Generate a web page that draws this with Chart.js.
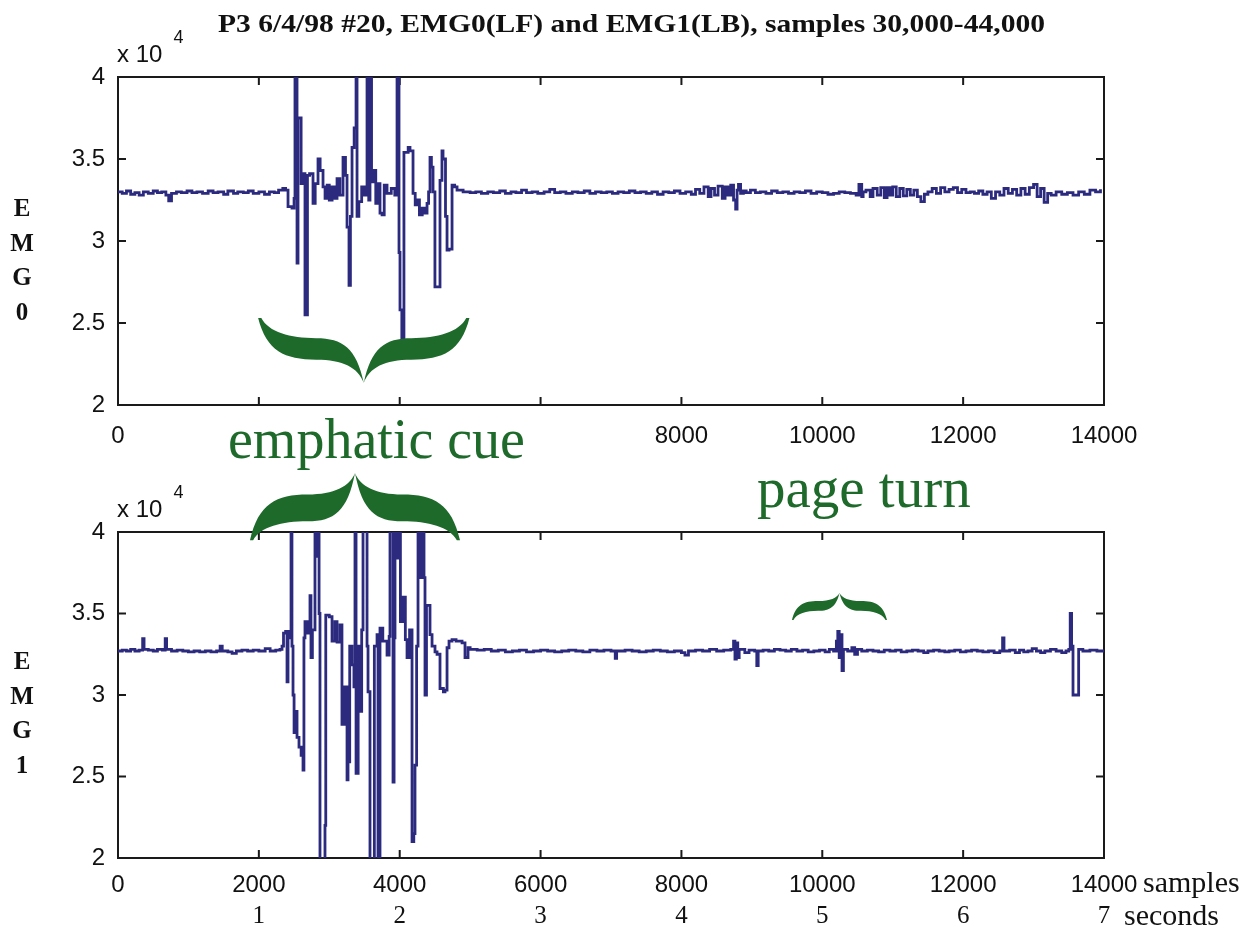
<!DOCTYPE html>
<html>
<head>
<meta charset="utf-8">
<title>EMG0 and EMG1</title>
<script src="https://cdn.jsdelivr.net/npm/chart.js@4.4.1/dist/chart.umd.min.js"></script>
<style>
  html, body { margin: 0; padding: 0; background: #fff; }
  #page { position: relative; width: 1253px; height: 928px; overflow: hidden; }
  canvas { position: absolute; left: 0; }
  #topChart { top: 0; }
  #bottomChart { top: 460px; }
  .lbl { position: absolute; white-space: nowrap; line-height: 1; color: #111; }
  .serif { font-family: 'Liberation Serif', 'Times New Roman', serif; }
  .sans { font-family: 'Liberation Sans', Arial, sans-serif; }
  .green { color: #1d6a2b; }
  .emg { width: 30px; text-align: center; font-weight: bold; font-size: 25px; line-height: 34.5px; }
  .sup { position: relative; top: -19px; font-size: 18px; margin-left: 11px; }
</style>
</head>
<body>
<div id="page">
  <canvas id="topChart" width="1253" height="460"></canvas>
  <canvas id="bottomChart" width="1253" height="468"></canvas>

  <div id="title" class="lbl serif" style="left:218px; top:11px; font-size:26px; font-weight:bold; transform-origin:0 0;">P3 6/4/98 #20, EMG0(LF) and EMG1(LB), samples 30,000-44,000</div>

  <div class="lbl sans" style="left:117px; top:42px; font-size:24px;">x 10<span class="sup">4</span></div>
  <div class="lbl sans" style="left:117px; top:497px; font-size:24px;">x 10<span class="sup">4</span></div>

  <div class="lbl serif emg" style="left:7px; top:191px;">E<br>M<br>G<br>0</div>
  <div class="lbl serif emg" style="left:7px; top:644px;">E<br>M<br>G<br>1</div>

  <div class="lbl serif green" style="left:228px; top:411px; font-size:56px;">emphatic cue</div>
  <div class="lbl serif green" style="left:757px; top:459px; font-size:57px;">page turn</div>

  <div class="lbl serif" style="left:1143px; top:867px; font-size:30px;">samples</div>
  <div class="lbl serif" style="left:1124px; top:900px; font-size:30px;">seconds</div>
</div>

<script>
// axis ticks
const sampleTicks = [0, 2000, 4000, 6000, 8000, 10000, 12000, 14000];
const topShownSamples = [0, 8000, 10000, 12000, 14000];
const secondLabels = ['', '1', '2', '3', '4', '5', '6', '7'];
const yTicks = [20000, 25000, 30000, 35000, 40000];
const yTickLabels = ['2', '2.5', '3', '3.5', '4'];

// EMG0 (LF)
const emg0Samples = [
  0, 60, 120, 180, 240, 300, 360, 430, 500, 560, 620, 680, 720, 760, 830, 900, 980, 1050, 1120, 1200,
  1280, 1350, 1420, 1500, 1560, 1640, 1700, 1780, 1850, 1920, 2000, 2080, 2150, 2220, 2280, 2340,
  2380, 2414, 2470, 2500, 2513, 2530, 2542, 2556, 2580, 2600, 2640, 2655, 2670, 2690, 2720, 2769,
  2800, 2840, 2870, 2911, 2940, 2970, 3000, 3040, 3080, 3110, 3150, 3195, 3230, 3252, 3280, 3300,
  3323, 3353, 3380, 3394, 3420, 3460, 3500, 3536, 3560, 3578, 3600, 3640, 3660, 3700, 3720, 3749,
  3780, 3820, 3880, 3930, 3962, 3990, 4004, 4030, 4047, 4060, 4120, 4146, 4189, 4220, 4246, 4280,
  4320, 4350, 4388, 4410, 4430, 4450, 4473, 4500, 4540, 4572, 4600, 4615, 4650, 4672, 4700, 4743,
  4780, 4814, 4900, 5000, 5080, 5160, 5250, 5330, 5420, 5500, 5580, 5650, 5730, 5800, 5880, 5960,
  6050, 6130, 6200, 6280, 6360, 6450, 6530, 6620, 6700, 6780, 6860, 6940, 7020, 7100, 7180, 7260,
  7340, 7420, 7500, 7580, 7660, 7740, 7820, 7900, 7980, 8060, 8140, 8200, 8260, 8320, 8380, 8420,
  8470, 8520, 8580, 8620, 8660, 8700, 8740, 8770, 8790, 8810, 8840, 8880, 8920, 8980, 9050, 9120,
  9200, 9280, 9360, 9440, 9520, 9600, 9680, 9760, 9840, 9920, 10000, 10080, 10160, 10240, 10320, 10400,
  10480, 10520, 10560, 10580, 10620, 10680, 10720, 10780, 10830, 10880, 10920, 10960, 11000, 11050, 11100, 11150,
  11200, 11250, 11300, 11350, 11400, 11450, 11500, 11560, 11620, 11680, 11740, 11800, 11860, 11920, 11980, 12040,
  12100, 12160, 12220, 12280, 12340, 12400, 12460, 12520, 12580, 12640, 12700, 12760, 12820, 12880, 12940, 13000,
  13050, 13100, 13150, 13200, 13250, 13320, 13400, 13480, 13560, 13640, 13720, 13800, 13880, 13950, 14000
];
const emg0Values = [
  33000, 32900, 33050, 32850, 32950, 32800, 33000, 32900, 33050, 32950, 33000, 32800, 32450, 32900, 33000, 32950, 33050, 32950, 33000, 32900,
  33050, 32950, 33000, 32850, 33050, 32900, 33000, 32950, 33050, 32900, 33000, 32850, 33000, 32950, 33100, 33200,
  33100, 32100, 32000, 32600, 41000, 41000, 28650, 37500, 37500, 33500, 34100, 25500, 25500, 34000, 34100, 32300,
  33500, 35000, 34300, 33300, 32600, 33400, 32500, 33300, 32600, 33800, 32800, 35100, 34000, 30850, 27300, 31500,
  35700, 36900, 41000, 31500, 32400, 33300, 32800, 41000, 32500, 41000, 33600, 34300, 32300, 33500, 31700, 31600,
  33400, 32900, 33200, 32800, 41000, 29300, 25800, 24000, 24000, 35400, 35700, 35500, 32900, 32200, 32500, 31600,
  32000, 31700, 32300, 33000, 35100, 34500, 33000, 27200, 27200, 33700, 35500, 35000, 31500, 29450, 29500, 33400,
  33300, 33100, 33000, 32950, 33000, 32900, 33000, 32950, 33050, 32900, 33000, 32950, 33100, 32950, 33000, 32900,
  33000, 33150, 32950, 33000, 32900, 33000, 32950, 33050, 32900, 33000, 32950, 33000, 32900, 33000, 32950, 33050,
  32950, 33000, 32900, 33000, 32850, 33000, 32950, 33050, 32900, 33000, 32850, 33150, 32900, 33300, 32700, 33200,
  32800, 33350, 32600, 33300, 32800, 33400, 32500, 31950, 33100, 33450, 32900, 33050, 32950, 33100, 32950, 33000,
  32900, 33050, 32950, 33000, 32900, 33000, 32950, 33050, 32900, 33000, 32950, 32850, 32900, 33000, 32950, 32900,
  32800, 33450, 32700, 33000, 33100, 32700, 33200, 32800, 33250, 32650, 33250, 32800, 33300, 32700, 33200, 32750,
  33150, 32800, 33100, 32700, 32400, 32850, 33000, 33200, 32900, 33250, 33000, 33150, 33250, 32950, 33150, 32950,
  33000, 32900, 33050, 32850, 33000, 32600, 33000, 32800, 33200, 32900, 33150, 32800, 33200, 32850, 33250, 33450,
  32700, 33200, 32350, 32900, 32800, 33000, 32850, 32950, 32800, 33000, 32850, 33100, 33000, 33150
];

// EMG1 (LB)
const emg1Samples = [
  0, 60, 120, 180, 240, 300, 350, 370, 430, 500, 560, 630, 670, 690, 760, 840, 920, 1000, 1080, 1160,
  1240, 1320, 1400, 1450, 1480, 1560, 1620, 1680, 1760, 1840, 1920, 2000, 2090, 2160, 2240, 2300,
  2329, 2350, 2380, 2400, 2414, 2440, 2457, 2470, 2485, 2500, 2520, 2542, 2570, 2600, 2627, 2640,
  2655, 2690, 2726, 2740, 2760, 2797, 2820, 2840, 2855, 2868, 2910, 2939, 2950, 3000, 3039, 3080,
  3110, 3152, 3180, 3220, 3252, 3266, 3290, 3323, 3350, 3365, 3380, 3410, 3436, 3460, 3479, 3520,
  3536, 3550, 3578, 3620, 3640, 3678, 3692, 3710, 3720, 3760, 3820, 3850, 3862, 3905, 3920, 3933,
  3960, 3990, 4010, 4047, 4080, 4104, 4140, 4175, 4200, 4217, 4240, 4260, 4300, 4331, 4345, 4359,
  4380, 4402, 4430, 4459, 4501, 4530, 4572, 4620, 4643, 4672, 4700, 4743, 4800, 4885, 4927, 4970,
  5000, 5100, 5200, 5300, 5400, 5500, 5600, 5700, 5800, 5900, 6000, 6100, 6200, 6300, 6400, 6500,
  6600, 6700, 6800, 6900, 7000, 7060, 7080, 7200, 7300, 7400, 7500, 7600, 7700, 7800, 7900, 8000,
  8050, 8100, 8200, 8300, 8400, 8500, 8600, 8700, 8740, 8760, 8780, 8800, 8820, 8900, 8960, 9040,
  9070, 9090, 9160, 9240, 9320, 9400, 9480, 9560, 9640, 9720, 9800, 9880, 9960, 10040, 10100, 10160,
  10200, 10220, 10240, 10260, 10280, 10300, 10360, 10420, 10460, 10500, 10560, 10640, 10720, 10800, 10880, 10960,
  11040, 11120, 11200, 11280, 11360, 11440, 11500, 11580, 11660, 11740, 11800, 11880, 11960, 12040, 12120, 12200,
  12280, 12360, 12440, 12520, 12560, 12580, 12660, 12740, 12800, 12860, 12920, 12980, 13040, 13100, 13160, 13240,
  13320, 13400, 13460, 13500, 13520, 13540, 13560, 13620, 13640, 13700, 13800, 13900, 14000
];
const emg1Values = [
  32700, 32750, 32700, 32800, 32700, 32750, 33450, 32800, 32750, 32700, 32800, 32750, 33450, 32800, 32700, 32750, 32700, 32650, 32700, 32650,
  32700, 32650, 32700, 33000, 32700, 32650, 32550, 32700, 32750, 32700, 32750, 32700, 32850, 32700, 32750, 32800,
  33000, 33800, 33900, 30800, 33500, 33900, 41000, 33000, 30000, 27700, 29000, 27400, 26800, 26300, 25400, 33500,
  34500, 33800, 36100, 32300, 34000, 41000, 38500, 41000, 35000, 19000, 19000, 22000, 34900, 34800, 33300, 34500,
  33250, 34300, 28200, 30500, 24800, 25900, 33000, 31850, 30500, 41000, 25200, 33000, 29000, 34000, 41000, 41000,
  33000, 30200, 19000, 19000, 33000, 33700, 19000, 19000, 34100, 33300, 32450, 33600, 41000, 24650, 33500, 41000,
  38400, 41000, 34500, 36000, 33400, 32300, 34000, 21000, 21500, 25700, 33000, 41000, 37200, 41000, 37200, 30000,
  35500, 35500, 33700, 33000, 32650, 32500, 30400, 30200, 30300, 32900, 33300, 33400, 33300, 33200, 32300, 32900,
  32800, 32750, 32800, 32700, 32750, 32650, 32700, 32750, 32650, 32700, 32750, 32700, 32650, 32700, 32750, 32700,
  32650, 32750, 32700, 32750, 32700, 32250, 32700, 32750, 32700, 32650, 32700, 32750, 32700, 32650, 32700, 32600,
  32450, 32700, 32750, 32700, 32800, 32700, 32750, 32800, 33300, 32200, 33200, 32300, 32800, 32600, 32750, 32700,
  31800, 32700, 32750, 32700, 32800, 32750, 32700, 32800, 32700, 32750, 32650, 32700, 32750, 32650, 32800, 32700,
  33300, 33900, 32300, 33700, 31500, 32800, 32700, 32900, 32500, 32800, 32700, 32750, 32700, 32650, 32750, 32700,
  32750, 32650, 32700, 32750, 32700, 32600, 32700, 32750, 32700, 32650, 32700, 32750, 32650, 32700, 32750, 32700,
  32650, 32700, 32600, 32700, 33500, 32700, 32750, 32600, 32750, 32650, 32700, 32850, 32700, 32600, 32700, 32800,
  32700, 32600, 32700, 32800, 35000, 33000, 30000, 30000, 32800, 32700, 32750, 32700, 32750
];

const lineColor = '#2b2a7e';
const green = '#1d6a2b';
const tickFont = { family: "'Liberation Sans', Arial, sans-serif", size: 24 };

// brace annotations, placed in data units of each panel
const topBraces = [{ from: 1990, to: 4990, end: 25300, tip: 21340, a: 0.64, t: 0.33 }];
const bottomBraces = [
  { from: 1874, to: 4856, end: 39500, tip: 43620, a: 0.68, t: 0.4 },
  { from: 9570, to: 10919, end: 34600, tip: 36260, a: 0.7, t: 0.36 }
];

function drawBrace(ctx, xa, xb, yEnd, yTip, a, t) {
  const xm = (xa + xb) / 2, h = yTip - yEnd, b = a - t;
  [xa, xb].forEach(x0 => {
    const w = xm - x0;
    const P = (u, v) => [x0 + u * w, yEnd + v * h];
    ctx.beginPath();
    ctx.moveTo(...P(0, 0));
    ctx.bezierCurveTo(...P(0.08, a * 0.8), ...P(0.25, a), ...P(0.55, a));
    ctx.bezierCurveTo(...P(0.8, a), ...P(0.95, a + 0.12), ...P(1, 1));
    ctx.bezierCurveTo(...P(0.93, b + 0.15), ...P(0.8, b), ...P(0.55, b));
    ctx.bezierCurveTo(...P(0.3, b), ...P(0.1, b * 0.7), ...P(0.03, 0));
    ctx.closePath();
    ctx.fill();
  });
}

// matlab style box with inward ticks
const framePlugin = {
  id: 'frame',
  beforeDatasetsDraw(chart) {
    const { ctx, chartArea: c, scales } = chart;
    ctx.save();
    ctx.strokeStyle = '#1a1a1a';
    ctx.lineWidth = 2;
    ctx.strokeRect(c.left, c.top, c.right - c.left, c.bottom - c.top);
    ctx.beginPath();
    sampleTicks.forEach(v => {
      const px = scales.x.getPixelForValue(v);
      ctx.moveTo(px, c.bottom); ctx.lineTo(px, c.bottom - 8);
      ctx.moveTo(px, c.top); ctx.lineTo(px, c.top + 8);
    });
    yTicks.forEach(v => {
      const py = scales.y.getPixelForValue(v);
      ctx.moveTo(c.left, py); ctx.lineTo(c.left + 8, py);
      ctx.moveTo(c.right, py); ctx.lineTo(c.right - 8, py);
    });
    ctx.stroke();
    ctx.restore();
  }
};

const bracePlugin = {
  id: 'braces',
  afterDatasetsDraw(chart, args, opts) {
    const { ctx, scales } = chart;
    ctx.save();
    ctx.fillStyle = green;
    (opts.items || []).forEach(br => {
      drawBrace(ctx,
        scales.x.getPixelForValue(br.from), scales.x.getPixelForValue(br.to),
        scales.y.getPixelForValue(br.end), scales.y.getPixelForValue(br.tip),
        br.a, br.t);
    });
    ctx.restore();
  }
};

const noGrid = { display: false, drawTicks: false };

function makeChart(id, samples, values, cfg) {
  const scales = {
    x: {
      type: 'linear', min: 0, max: 14000,
      grid: noGrid, border: { display: false },
      afterBuildTicks: s => { s.ticks = sampleTicks.map(v => ({ value: v })); },
      afterFit: s => { s.height = cfg.xHeight; },
      ticks: {
        font: tickFont, color: '#111', padding: cfg.xPad, maxRotation: 0, autoSkip: false,
        callback: v => cfg.xShown.includes(v) ? String(v) : ''
      }
    },
    y: {
      min: 20000, max: 40000,
      grid: noGrid, border: { display: false },
      afterBuildTicks: s => { s.ticks = yTicks.map(v => ({ value: v })); },
      afterFit: s => { s.width = 118; },
      ticks: {
        font: tickFont, color: '#111', padding: 13,
        callback: v => yTickLabels[yTicks.indexOf(v)]
      }
    }
  };
  if (cfg.seconds) {
    scales.x2 = {
      type: 'linear', position: 'bottom', min: 0, max: 14000,
      grid: noGrid, border: { display: false },
      afterBuildTicks: s => { s.ticks = sampleTicks.map(v => ({ value: v })); },
      afterFit: s => { s.height = 32; },
      ticks: {
        font: { family: "'Liberation Serif', 'Times New Roman', serif", size: 25 },
        color: '#111', padding: 5, maxRotation: 0, autoSkip: false,
        callback: v => secondLabels[sampleTicks.indexOf(v)]
      }
    };
  }
  return new Chart(document.getElementById(id), {
    type: 'line',
    data: {
      datasets: [{
        data: samples.map((s, i) => ({ x: s, y: values[i] })),
        borderColor: lineColor,
        borderWidth: 2.8,
        pointRadius: 0,
        stepped: true,
        fill: false
      }]
    },
    options: {
      responsive: false,
      animation: false,
      events: [],
      layout: { padding: { top: cfg.top, right: 149, left: 0, bottom: 0 } },
      scales: scales,
      plugins: {
        legend: { display: false },
        tooltip: { enabled: false },
        braces: { items: cfg.braces }
      }
    },
    plugins: [framePlugin, bracePlugin]
  });
}

makeChart('topChart', emg0Samples, emg0Values, {
  top: 77, xHeight: 55, xPad: 17, xShown: topShownSamples, braces: topBraces, seconds: false
});
makeChart('bottomChart', emg1Samples, emg1Values, {
  top: 72, xHeight: 38, xPad: 13, xShown: sampleTicks, braces: bottomBraces, seconds: true
});

// stretch the title to the width it has in the figure
const title = document.getElementById('title');
const tw = title.getBoundingClientRect().width;
title.style.transform = 'scaleX(' + (827 / tw) + ')';
</script>
</body>
</html>
